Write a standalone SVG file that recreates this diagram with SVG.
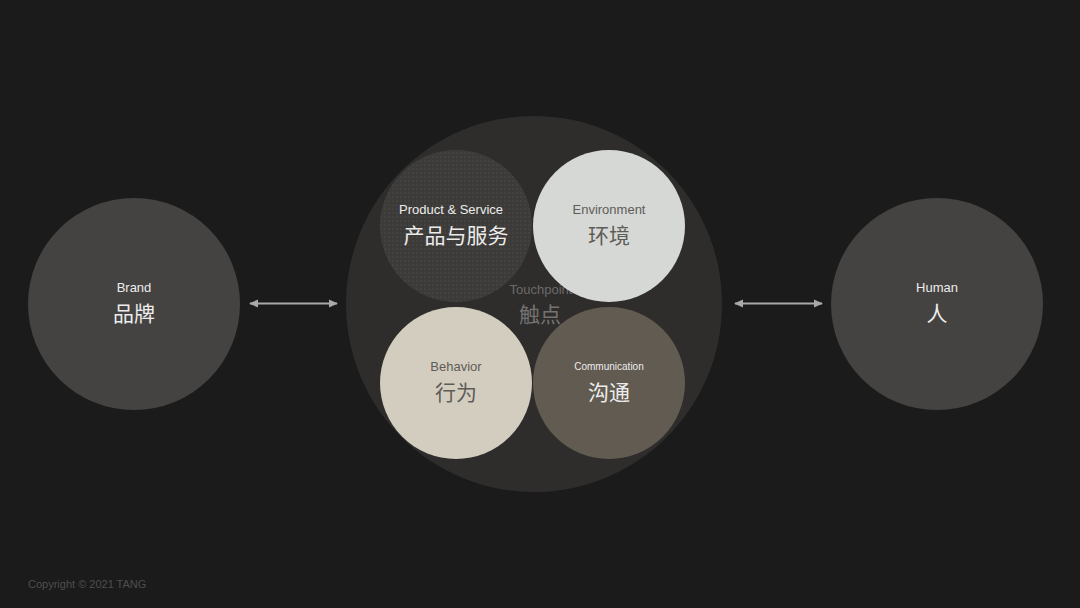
<svg xmlns="http://www.w3.org/2000/svg" width="1080" height="608" viewBox="0 0 1080 608">
<defs>
<pattern id="dots" width="4" height="4" patternUnits="userSpaceOnUse">
<rect width="4" height="4" fill="#3d3b39"/>
<circle cx="1" cy="1" r="0.6" fill="#5a5854"/>
</pattern>
<marker id="ah" viewBox="0 0 10 10" refX="9" refY="5" markerWidth="9" markerHeight="9" orient="auto-start-reverse" markerUnits="userSpaceOnUse">
<path d="M0,0.5 L10,5 L0,9.5 Z" fill="#a9a9a9"/>
</marker>
<style>
.en{font-family:"Liberation Sans",Arial,sans-serif;text-anchor:middle;font-size:13px}
.sm{font-size:10px}
.zh{font-family:"Noto Sans CJK SC","Liberation Sans",sans-serif;text-anchor:middle;font-size:21px}
.lt{fill:#ececec}
.dk{fill:#5f5c58}
.con{stroke:#a9a9a9;stroke-width:2;fill:none}
</style>
</defs>
<rect width="1080" height="608" fill="#1b1b1b"/>
<g id="brand">
<circle cx="134" cy="304" r="106" fill="#454341"/>
<text class="en lt" x="134" y="292">Brand</text>
<text class="zh lt" x="134" y="321">品牌</text>
</g>
<g id="human">
<circle cx="937" cy="304" r="106" fill="#454341"/>
<text class="en lt" x="937" y="292">Human</text>
<text class="zh lt" x="937" y="321">人</text>
</g>
<g id="touchpoint">
<circle cx="534" cy="304" r="188" fill="#2e2d2c"/>
<text class="en" x="541" y="294" fill="#6c6a68">Touchpoint</text>
<text class="zh" x="540" y="322" fill="#757371">触点</text>
</g>
<g id="product">
<circle cx="456" cy="226" r="76" fill="url(#dots)"/>
<text class="en lt" x="451" y="214">Product &amp; Service</text>
<text class="zh lt" x="456" y="243">产品与服务</text>
</g>
<g id="environment">
<circle cx="609" cy="226" r="76" fill="#d5d8d5"/>
<text class="en dk" x="609" y="214">Environment</text>
<text class="zh dk" x="609" y="243">环境</text>
</g>
<g id="behavior">
<circle cx="456" cy="383" r="76" fill="#d3cdbf"/>
<text class="en dk" x="456" y="371">Behavior</text>
<text class="zh dk" x="456" y="400">行为</text>
</g>
<g id="communication">
<circle cx="609" cy="383" r="76" fill="#625b51"/>
<text class="en sm lt" x="609" y="370">Communication</text>
<text class="zh lt" x="609" y="400">沟通</text>
</g>
<g id="connectors">
<line class="con" x1="250" y1="303.5" x2="337" y2="303.5" marker-start="url(#ah)" marker-end="url(#ah)"/>
<line class="con" x1="735" y1="303.5" x2="822" y2="303.5" marker-start="url(#ah)" marker-end="url(#ah)"/>
</g>
<text x="28" y="588" font-family="Liberation Sans,Arial,sans-serif" font-size="11" fill="#4e4e4e">Copyright © 2021 TANG</text>
</svg>
